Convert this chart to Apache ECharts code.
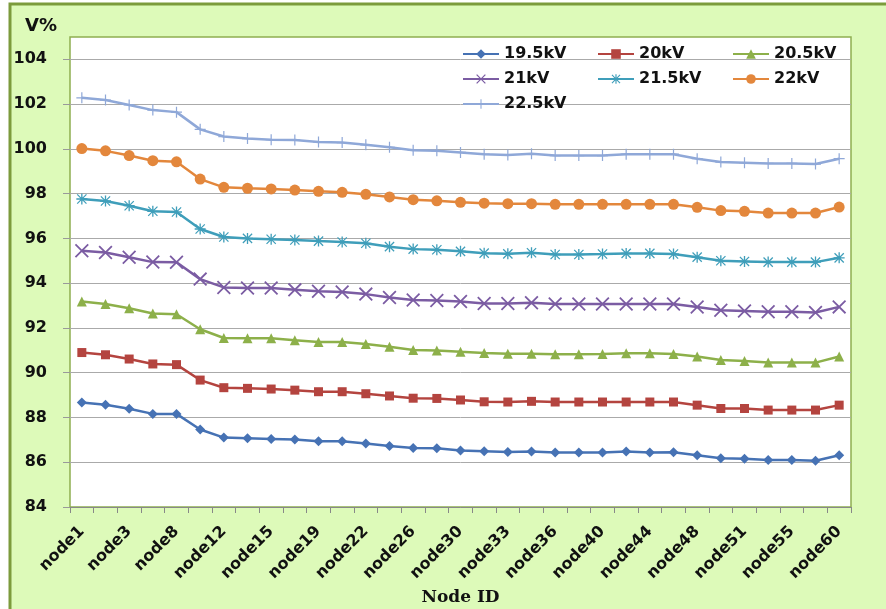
<!DOCTYPE html>
<html>
<head>
<meta charset="utf-8">
<script src="https://cdn.jsdelivr.net/npm/echarts@6/dist/echarts.min.js"></script>
<style>
html,body{margin:0;padding:0;background:#fff;}
#c{width:886px;height:609px;}
</style>
</head>
<body>
<div id="c"></div>
<script>
const categories = ['node1','node2','node3','node5','node8','node10','node12','node13','node15','node17','node19','node20','node22','node24','node26','node28','node30','node31','node33','node34','node36','node38','node40','node42','node44','node46','node48','node50','node51','node53','node55','node58','node60'];
const seriesNames = ['19.5kV','20kV','20.5kV','21kV','21.5kV','22kV','22.5kV'];
const v195 = [88.67,88.57,88.39,88.16,88.16,87.46,87.10,87.07,87.04,87.01,86.94,86.94,86.84,86.73,86.64,86.62,86.52,86.49,86.46,86.48,86.43,86.43,86.43,86.48,86.43,86.45,86.31,86.18,86.15,86.10,86.10,86.07,86.31];
const v20 = [90.90,90.80,90.61,90.39,90.36,89.67,89.33,89.30,89.27,89.22,89.15,89.15,89.06,88.96,88.86,88.85,88.78,88.70,88.69,88.72,88.69,88.69,88.69,88.69,88.69,88.69,88.55,88.40,88.40,88.33,88.33,88.33,88.55];
const v205 = [93.18,93.07,92.88,92.64,92.61,91.94,91.55,91.54,91.54,91.45,91.37,91.37,91.28,91.16,91.01,90.99,90.93,90.88,90.85,90.85,90.82,90.82,90.84,90.87,90.87,90.84,90.72,90.57,90.52,90.45,90.45,90.45,90.72];
const v21 = [95.45,95.37,95.16,94.94,94.93,94.18,93.81,93.78,93.78,93.70,93.64,93.60,93.51,93.36,93.25,93.23,93.18,93.09,93.09,93.12,93.07,93.07,93.07,93.07,93.07,93.07,92.93,92.79,92.76,92.72,92.72,92.69,92.94];
const v215 = [97.76,97.67,97.46,97.21,97.18,96.42,96.06,96.00,95.96,95.93,95.88,95.84,95.78,95.63,95.52,95.49,95.42,95.34,95.31,95.36,95.28,95.28,95.30,95.33,95.33,95.30,95.16,95.00,94.97,94.94,94.94,94.94,95.13];
const v22 = [100.01,99.91,99.70,99.47,99.42,98.65,98.28,98.24,98.21,98.16,98.10,98.06,97.97,97.85,97.73,97.68,97.61,97.57,97.55,97.55,97.52,97.52,97.52,97.52,97.52,97.52,97.39,97.24,97.21,97.13,97.13,97.13,97.40];
const v225 = [102.28,102.18,101.96,101.73,101.64,100.87,100.55,100.46,100.41,100.39,100.31,100.28,100.18,100.07,99.94,99.91,99.84,99.76,99.73,99.78,99.70,99.70,99.70,99.76,99.76,99.76,99.56,99.41,99.38,99.35,99.35,99.32,99.56];
const yMin = 84, yMax = 104, yStep = 2;

const allValues = [v195, v20, v205, v21, v215, v22, v225];
const colors = ['#4672B4','#B4443F','#8DB04A','#7B5CA3','#3F9EBA','#E3873C','#8FA8D8'];
const X_PATH = 'path://M0,0.9 L0.9,0 L10,9.1 L9.1,10 Z M9.1,0 L10,0.9 L0.9,10 L0,9.1 Z';
const STAR_PATH = 'path://M4.4,0 H5.6 V10 H4.4 Z M0,4.4 H10 V5.6 H0 Z M0.4,1.2 L1.2,0.4 L9.6,8.8 L8.8,9.6 Z M8.8,0.4 L9.6,1.2 L1.2,9.6 L0.4,8.8 Z';
const PLUS_PATH = 'path://M4.45,0 H5.55 V10 H4.45 Z M0,4.45 H10 V5.55 H0 Z';
const symbols = ['diamond','rect','triangle',X_PATH,STAR_PATH,'circle',PLUS_PATH];
const symSizes = [10,9,10,14,11,11,11];

const chart = echarts.init(document.getElementById('c'), null, {renderer:'canvas'});

const series = seriesNames.map((n,i)=>({
  name:n, type:'line', data:allValues[i],
  symbol:symbols[i], symbolSize:symSizes[i], showSymbol:true,
  lineStyle:{color:colors[i], width:2.5},
  itemStyle:{color:colors[i], borderWidth:0},
  emphasis:{disabled:true}, animation:false
}));

const legendBase = {
  orient:'vertical', top:41, itemWidth:36, itemHeight:12, itemGap:9,
  textStyle:{fontFamily:'DejaVu Sans', fontWeight:'bold', fontSize:16, color:'#111'},
  selectedMode:false
};

chart.setOption({
  animation:false,
  backgroundColor:'#ffffff',
  graphic:[
    {type:'rect', z:-20, shape:{x:10,y:4,width:900,height:640}, style:{fill:'#DDFAB9', stroke:'#7C9B3C', lineWidth:3}},
    {type:'rect', z:-10, shape:{x:70,y:37,width:781,height:470}, style:{fill:'#ffffff', stroke:'#8FAF50', lineWidth:1.5}},
    {type:'text', left:25, top:17, style:{text:'V%', font:'bold 18px "DejaVu Sans"', fill:'#111'}}
  ],
  legend:[
    Object.assign({}, legendBase, {left:457, data:['19.5kV','21kV','22.5kV']}),
    Object.assign({}, legendBase, {left:592, data:['20kV','21.5kV']}),
    Object.assign({}, legendBase, {left:727, data:['20.5kV','22kV']})
  ],
  grid:{left:70, right:35, top:59.3, bottom:102, containLabel:false, outerBoundsMode:'none'},
  xAxis:{
    type:'category', data:categories, boundaryGap:true,
    name:'Node ID', nameLocation:'middle', nameGap:80,
    nameTextStyle:{fontFamily:'DejaVu Serif', fontWeight:'bold', fontSize:17, color:'#111'},
    axisLine:{show:true, lineStyle:{color:'#888', width:1}},
    axisTick:{show:true, length:6, interval:0, lineStyle:{color:'#888'}},
    axisLabel:{interval:1, rotate:45, margin:22, fontFamily:'DejaVu Sans', fontWeight:'bold', fontSize:16, color:'#111'},
    splitLine:{show:false}
  },
  yAxis:{
    type:'value', min:yMin, max:yMax, interval:yStep,
    axisLine:{show:false},
    axisTick:{show:true, length:7, lineStyle:{color:'#999'}},
    axisLabel:{margin:23, fontFamily:'DejaVu Sans', fontWeight:'bold', fontSize:16, color:'#111'},
    splitLine:{show:true, lineStyle:{color:'#AAAAAA', width:1}}
  },
  series:series
});
</script>
</body>
</html>
